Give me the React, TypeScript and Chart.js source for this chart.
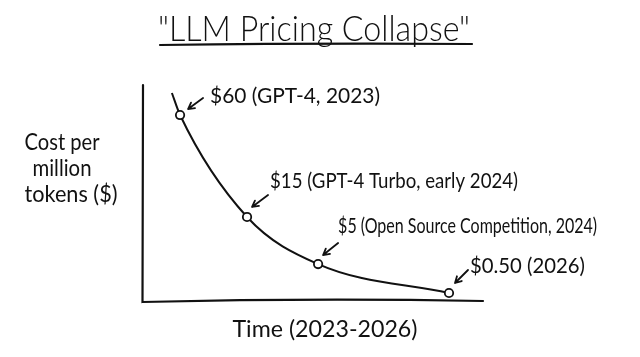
import React, { useEffect, useRef } from "react";
import { Chart, registerables } from "chart.js";

Chart.register(...registerables);

// ---- data (schematic; plot units 0-100) ----
const titleText = '"LLM Pricing Collapse"';
const xAxisLabel = "Time (2023-2026)";
const yAxisLabel = ["Cost per", "million", "tokens ($)"];

const curveX = [8.5, 10.9, 30.6, 51.5, 90];
const curveY = [96.3, 86.1, 38.9, 17.1, 3.7];
const isMarker = [false, true, true, true, true];

const prices = ["$60", "$15", "$5", "$0.50"];
const events = ["GPT-4, 2023", "GPT-4 Turbo, early 2024", "Open Source Competition, 2024", "2026"];

// ---- styling for the annotations (offsets from each marker, in px) ----
const FONT = "Lato, 'Open Sans', sans-serif";
const INK = "#111";
const labelStyle = [
  { dx: 30, dy: -12, w: 170, size: 22, head: [8, -6], tail: [23, -17] },
  { dx: 23, dy: -29, w: 248, size: 22, head: [5, -10], tail: [21, -22] },
  { dx: 20, dy: -31, w: 259, size: 21, head: [5, -9], tail: [20, -21] },
  { dx: 21, dy: -20, w: 115, size: 21, head: [6, -10], tail: [19, -23] },
];

function drawFit(ctx: CanvasRenderingContext2D, text: string, x: number, y: number, width: number, align: "left" | "center") {
  const m = ctx.measureText(text).width;
  const s = width / m;
  ctx.save();
  ctx.translate(x, y);
  ctx.scale(s, 1);
  ctx.textAlign = align;
  ctx.textBaseline = "alphabetic";
  ctx.fillText(text, 0, 0);
  ctx.restore();
}

function drawArrow(ctx: CanvasRenderingContext2D, tx: number, ty: number, hx: number, hy: number) {
  const ang = Math.atan2(hy - ty, hx - tx);
  const L = 7;
  ctx.beginPath();
  ctx.moveTo(tx, ty);
  ctx.lineTo(hx, hy);
  ctx.moveTo(hx - L * Math.cos(ang - 0.5), hy - L * Math.sin(ang - 0.5));
  ctx.lineTo(hx, hy);
  ctx.lineTo(hx - L * Math.cos(ang + 0.5), hy - L * Math.sin(ang + 0.5));
  ctx.stroke();
}

const xkcdPlugin = {
  id: "xkcdDecor",
  beforeDatasetsDraw(chart: any) {
    const { ctx, chartArea: a } = chart;
    ctx.save();
    ctx.strokeStyle = INK;
    ctx.lineWidth = 2.2;
    ctx.lineCap = "round";
    ctx.beginPath();
    ctx.moveTo(a.left, a.top);
    ctx.lineTo(a.left - 0.5, a.bottom + 1);
    ctx.quadraticCurveTo((a.left + a.right) / 2, a.bottom - 3, a.right, a.bottom);
    ctx.stroke();
    ctx.restore();
  },
  afterDatasetsDraw(chart: any) {
    const { ctx } = chart;
    const xs = chart.scales.x;
    const ys = chart.scales.y;
    ctx.save();
    ctx.fillStyle = INK;
    ctx.strokeStyle = INK;
    ctx.lineWidth = 1.8;
    ctx.lineCap = "round";
    ctx.lineJoin = "round";
    let k = 0;
    for (let i = 0; i < curveX.length; i++) {
      if (!isMarker[i]) continue;
      const px = xs.getPixelForValue(curveX[i]);
      const py = ys.getPixelForValue(curveY[i]);
      const st = labelStyle[k];
      drawArrow(ctx, px + st.tail[0], py + st.tail[1], px + st.head[0], py + st.head[1]);
      ctx.font = `${st.size}px ${FONT}`;
      drawFit(ctx, `${prices[k]} (${events[k]})`, px + st.dx, py + st.dy, st.w, "left");
      k++;
    }
    // title
    ctx.font = `300 36px ${FONT}`;
    drawFit(ctx, titleText, 314, 41, 312, "center");
    ctx.beginPath();
    ctx.lineWidth = 2.2;
    ctx.moveTo(160, 45);
    ctx.quadraticCurveTo(320, 43, 472, 44);
    ctx.stroke();
    // axis labels
    ctx.font = `23px ${FONT}`;
    drawFit(ctx, yAxisLabel[0], 62, 150, 75, "center");
    drawFit(ctx, yAxisLabel[1], 62, 176, 59, "center");
    drawFit(ctx, yAxisLabel[2], 71, 202, 93, "center");
    ctx.font = `24px ${FONT}`;
    drawFit(ctx, xAxisLabel, 325, 337, 185, "center");
    ctx.restore();
  },
};

export default function App() {
  const ref = useRef<HTMLCanvasElement | null>(null);
  useEffect(() => {
    document.body.style.margin = "0";
    document.body.style.background = "#fff";
    const canvas = ref.current!;
    const chart = new Chart(canvas, {
      type: "line",
      data: {
        datasets: [
          {
            data: curveX.map((x, i) => ({ x, y: curveY[i] })),
            borderColor: INK,
            borderWidth: 2,
            cubicInterpolationMode: "monotone",
            pointRadius: isMarker.map((m) => (m ? 4.2 : 0)),
            pointBorderWidth: 1.8,
            pointBorderColor: INK,
            pointBackgroundColor: "#fff",
            fill: false,
          },
        ],
      },
      options: {
        animation: false,
        responsive: false,
        devicePixelRatio: 1,
        layout: { padding: { left: 143, right: 157, top: 85, bottom: 56 } },
        plugins: { legend: { display: false }, tooltip: { enabled: false }, title: { display: false } },
        scales: {
          x: { type: "linear", min: 0, max: 100, display: false },
          y: { type: "linear", min: 0, max: 100, display: false },
        },
      },
      plugins: [xkcdPlugin],
    });
    return () => chart.destroy();
  }, []);
  return (
    <div style={{ width: 640, height: 357, background: "#fff" }}>
      <canvas ref={ref} width={640} height={357} />
    </div>
  );
}
